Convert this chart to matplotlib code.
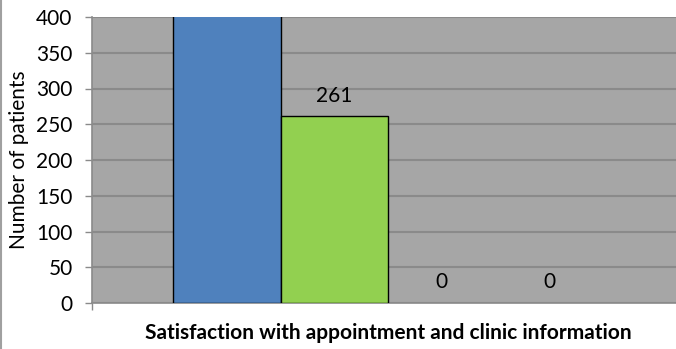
import matplotlib.pyplot as plt
from matplotlib.lines import Line2D

# datos del gráfico
categoria = "Satisfaction with appointment and clinic information"
valores = [420, 261, 0, 0]
colores = ["#4f81bd", "#92d050", "#c0504d", "#8064a2"]
etiquetas_visibles = [False, True, True, True]
yticks = [0, 50, 100, 150, 200, 250, 300, 350, 400]

plt.rcParams['font.family'] = ['Lato', 'DejaVu Sans']

fig = plt.figure(figsize=(6.76, 3.49), dpi=100)
ax = fig.add_axes([92 / 676, 46 / 349, 584 / 676, 286 / 349])
ax.set_facecolor("#a6a6a6")

ancho = 107.5 / 592
posiciones = [(i - 1.5) * ancho for i in range(len(valores))]
bordes = [1.0 if v > 0 else 0 for v in valores]
ax.bar(posiciones, valores, width=ancho, color=colores,
       edgecolor="black", linewidth=bordes, zorder=3)

for x, v, mostrar in zip(posiciones, valores, etiquetas_visibles):
    if mostrar:
        ax.annotate(str(v), (x, v), xytext=(0, 15), textcoords="offset points",
                    ha="center", va="center", fontsize=15, color="black")

ax.set_xlim(-0.5, -0.5 + 584 / 592)
ax.set_ylim(0, 400)
ax.set_yticks(yticks)
ax.yaxis.grid(True, color="#8a8a8a", linewidth=1.5, zorder=0)
ax.set_axisbelow(True)

ax.set_xticks([-0.5])
ax.set_xticklabels([""])
ax.tick_params(axis="x", length=5, color="#8a8a8a", width=1)
ax.tick_params(axis="y", length=5, color="#8a8a8a", width=1, labelsize=15, pad=9)

for lado in ["top", "right"]:
    ax.spines[lado].set_visible(False)
ax.spines["left"].set_color("#8a8a8a")
ax.spines["bottom"].set_color("#8a8a8a")
ax.spines["left"].set_linewidth(1.2)
ax.spines["bottom"].set_linewidth(1.2)

ax.set_ylabel("Number of patients", fontsize=15, labelpad=5)
fig.text(388 / 676, 1 - 333 / 349, categoria, ha="center", va="center",
         fontsize=15, fontweight="bold")

# borde izquierdo del área del gráfico
fig.add_artist(Line2D([0.5 / 676, 0.5 / 676], [0, 1], color="#a0a0a0",
                      linewidth=1.5, transform=fig.transFigure))

fig.savefig("out.png", dpi=100)
